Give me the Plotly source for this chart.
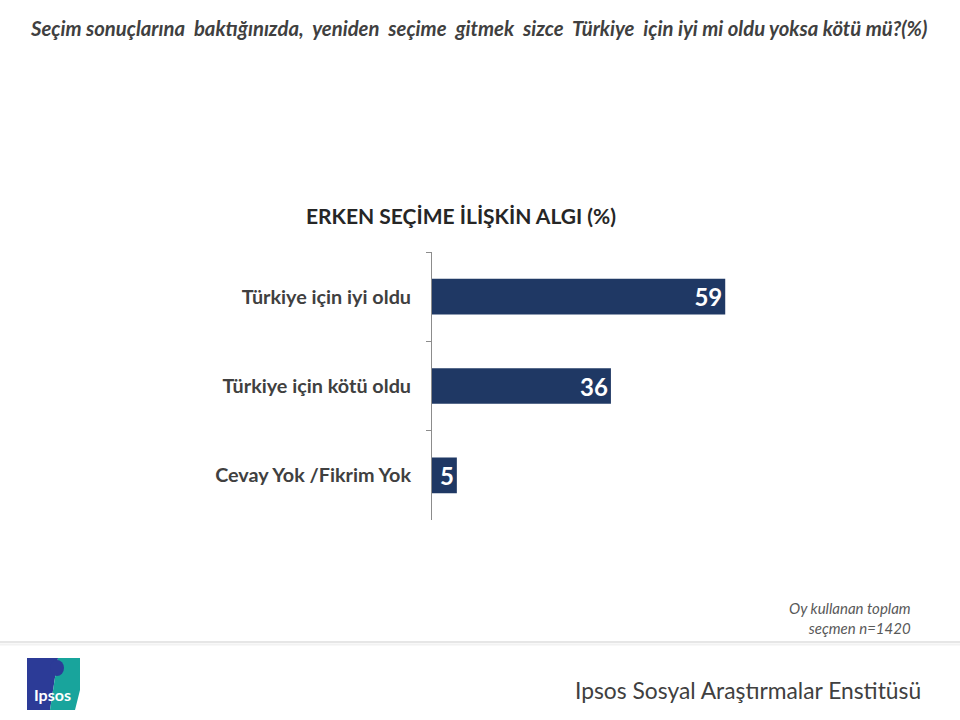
import plotly.graph_objects as go

# ---- data ----
categories = ["Türkiye için iyi oldu", "Türkiye için kötü oldu", "Cevay Yok /Fikrim Yok"]
values = [59, 36, 5]

question = "Seçim sonuçlarına  baktığınızda,  yeniden  seçime  gitmek  sizce  Türkiye  için iyi mi oldu yoksa kötü mü?(%)"
chart_title = "ERKEN SEÇİME İLİŞKİN ALGI (%)"
footnote = "Oy kullanan toplam<br>seçmen n=1420"
institute = "Ipsos Sosyal Araştırmalar Enstitüsü"

W, H = 960, 720
FONT = "Lato"

def px(x):
    return x / W

def py(y):
    return 1 - y / H

fig = go.Figure()
fig.add_trace(go.Bar(
    y=categories,
    x=values,
    orientation="h",
    marker=dict(color="#1f3864", line=dict(width=0)),
    width=0.4,
    text=[str(v) for v in values],
    textposition="inside",
    insidetextanchor="end",
    textangle=0,
    constraintext="none",
    textfont=dict(family=FONT, size=24, color="white", weight="bold"),
    hoverinfo="skip",
))

fig.update_layout(
    width=W, height=H,
    margin=dict(l=0, r=0, t=0, b=0),
    paper_bgcolor="white", plot_bgcolor="white",
    showlegend=False,
    xaxis=dict(domain=[px(432), px(929)], range=[0, 100], visible=False, fixedrange=True),
    yaxis=dict(
        domain=[py(520), py(252)],
        autorange="reversed",
        type="category",
        showline=True, linecolor="#8c8c8c", linewidth=1,
        ticks="outside", ticklen=5, tickcolor="#8c8c8c", tickwidth=1,
        tickson="boundaries",
        showgrid=False,
        ticklabelstandoff=16,
        tickfont=dict(family=FONT, size=19.8, color="#404040", weight="bold"),
    ),
    bargap=0.6,
)

annotations = [
    dict(text=question, x=px(478), y=py(28), xref="paper", yref="paper",
         xanchor="center", yanchor="middle", showarrow=False,
         font=dict(family=FONT, size=20.3, color="#404040", style="italic", weight="bold")),
    dict(text=chart_title, x=px(461), y=py(215), xref="paper", yref="paper",
         xanchor="center", yanchor="middle", showarrow=False,
         font=dict(family=FONT, size=21, color="#262626", weight="bold")),
    dict(text=footnote, x=px(913), y=py(618), xref="paper", yref="paper",
         xanchor="right", yanchor="middle", align="right", showarrow=False,
         font=dict(family=FONT, size=15, color="#595959", style="italic")),
    dict(text=institute, x=px(923), y=py(690), xref="paper", yref="paper",
         xanchor="right", yanchor="middle", showarrow=False,
         font=dict(family=FONT, size=22.8, color="#404040")),
    dict(text="Ipsos", x=px(52), y=py(694), xref="paper", yref="paper",
         xanchor="center", yanchor="middle", showarrow=False,
         font=dict(family=FONT, size=16, color="white", weight="bold")),
]
fig.update_layout(annotations=annotations)

shapes = [
    # separator line with soft shadow
    dict(type="line", xref="paper", yref="paper", x0=0, x1=1, y0=py(642), y1=py(642),
         line=dict(color="#e6e6e6", width=2)),
    dict(type="line", xref="paper", yref="paper", x0=0, x1=1, y0=py(644.5), y1=py(644.5),
         line=dict(color="#f2f2f2", width=2)),
    # logo: blue part
    dict(type="path", xref="paper", yref="paper",
         path=f"M {px(27)},{py(658)} L {px(58)},{py(658)} L {px(50)},{py(710)} L {px(27)},{py(710)} Z",
         fillcolor="#2c3b97", line=dict(width=0)),
    # logo: teal part
    dict(type="path", xref="paper", yref="paper",
         path=f"M {px(58)},{py(658)} L {px(80)},{py(658)} L {px(80)},{py(690)} L {px(75)},{py(710)} L {px(50)},{py(710)} Z",
         fillcolor="#18a49c", line=dict(width=0)),
    # logo: head silhouette
    dict(type="circle", xref="paper", yref="paper",
         x0=px(50), x1=px(64), y0=py(660), y1=py(676),
         fillcolor="#2c3b97", line=dict(width=0)),
]
fig.update_layout(shapes=shapes)

fig.write_html("out.html")
